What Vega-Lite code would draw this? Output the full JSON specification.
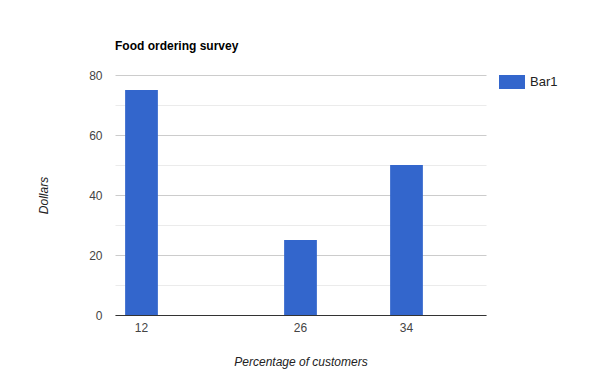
{
  "$schema": "https://vega.github.io/schema/vega-lite/v6.json",
  "width": 371,
  "height": 240,
  "autosize": {"type": "none"},
  "padding": {"left": 115, "top": 75, "right": 114, "bottom": 75},
  "background": "white",
  "title": {
    "text": "Food ordering survey",
    "anchor": "start",
    "frame": "group",
    "font": "Arial, Liberation Sans",
    "fontSize": 12,
    "fontWeight": "bold",
    "color": "#000000",
    "baseline": "alphabetic",
    "offset": 7
  },
  "data": {
    "values": [
      {"pct": "12", "dollars": 75, "series": "Bar1"},
      {"pct": "26", "dollars": 25, "series": "Bar1"},
      {"pct": "34", "dollars": 50, "series": "Bar1"}
    ]
  },
  "mark": {"type": "bar"},
  "encoding": {
    "x": {
      "field": "pct",
      "type": "nominal",
      "sort": null,
      "scale": {
        "domain": ["12", " ", "  ", "26", "   ", "34", "    "],
        "paddingInner": 0.382,
        "paddingOuter": 0.191
      },
      "axis": {
        "title": "Percentage of customers",
        "titleFont": "Arial, Liberation Sans",
        "titleFontSize": 12,
        "titleFontStyle": "italic",
        "titleFontWeight": "normal",
        "titleColor": "#222222",
        "titleBaseline": "alphabetic",
        "titleY": 50,
        "labelAngle": 0,
        "labelFont": "Arial, Liberation Sans",
        "labelFontSize": 12,
        "labelColor": "#444444",
        "labelPadding": 7,
        "ticks": false,
        "domainColor": "#333333",
        "domainWidth": 1,
        "grid": false
      }
    },
    "y": {
      "field": "dollars",
      "type": "quantitative",
      "scale": {"domain": [0, 80], "nice": false},
      "axis": {
        "title": "Dollars",
        "titleFont": "Arial, Liberation Sans",
        "titleFontSize": 12,
        "titleFontStyle": "italic",
        "titleFontWeight": "normal",
        "titleColor": "#222222",
        "titleBaseline": "alphabetic",
        "titleAngle": -90,
        "titleX": -68,
        "titleY": 120,
        "values": [0, 10, 20, 30, 40, 50, 60, 70, 80],
        "labelExpr": "datum.value % 20 === 0 ? datum.label : ''",
        "labelFont": "Arial, Liberation Sans",
        "labelFontSize": 12,
        "labelColor": "#444444",
        "labelPadding": 13,
        "ticks": false,
        "domain": false,
        "grid": true,
        "gridColor": {"condition": {"test": "datum.value % 20 === 0", "value": "#cccccc"}, "value": "#ebebeb"},
        "gridWidth": 1
      }
    },
    "color": {
      "field": "series",
      "type": "nominal",
      "scale": {"range": ["#3366cc"]},
      "legend": {
        "title": null,
        "orient": "none",
        "legendX": 384,
        "legendY": -6,
        "padding": 0,
        "symbolType": "M-1,-0.54H1V0.54H-1Z",
        "symbolSize": 676,
        "symbolStrokeWidth": 0,
        "symbolOpacity": 1,
        "labelFont": "Arial, Liberation Sans",
        "labelFontSize": 13,
        "labelColor": "#222222",
        "labelOffset": 5
      }
    }
  },
  "config": {
    "view": {"stroke": null},
    "bar": {"fill": "#3366cc"}
  }
}
